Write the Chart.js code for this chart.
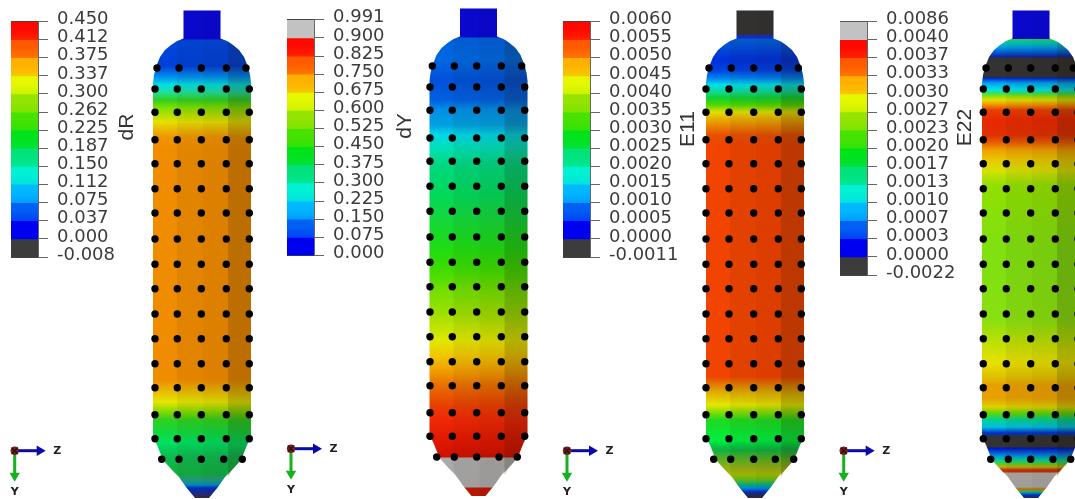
<!DOCTYPE html>
<html><head><meta charset="utf-8">
<script src="https://cdn.jsdelivr.net/npm/chart.js@4"></script>
<style>
html,body{margin:0;padding:0;background:#fff;width:1075px;height:499px;overflow:hidden}
canvas{position:absolute;display:block}
</style></head><body>
<canvas id="main" style="left:0;top:0"></canvas>
<canvas id="bar0"></canvas><canvas id="bar1"></canvas><canvas id="bar2"></canvas><canvas id="bar3"></canvas>
<script>
// ---------- legend data ----------
const ticksDR  = ["0.450","0.412","0.375","0.337","0.300","0.262","0.225","0.187","0.150","0.112","0.075","0.037","0.000","-0.008"];
const ticksDY  = ["0.991","0.900","0.825","0.750","0.675","0.600","0.525","0.450","0.375","0.300","0.225","0.150","0.075","0.000"];
const ticksE11 = ["0.0060","0.0055","0.0050","0.0045","0.0040","0.0035","0.0030","0.0025","0.0020","0.0015","0.0010","0.0005","0.0000","-0.0011"];
const ticksE22 = ["0.0086","0.0040","0.0037","0.0033","0.0030","0.0027","0.0023","0.0020","0.0017","0.0013","0.0010","0.0007","0.0003","0.0000","-0.0022"];
const rainbow  = ["#ff0800","#ff5a00","#ffb000","#e6f800","#94e400","#48e200","#00e21a","#00e27a","#00f2d2","#00b8ff","#0060f4","#0000f0"];
const overGrey = "#c2c2c2", underDark = "#3c3c3c";
const titles = ["dR","dY","E11","E22"];
const titleX = [127,405,688,965];
const titleY = [127,126,129,127.5];

// ---------- capsule outline (distance along y, half width) ----------
const profileY  = [10.5,38.5,39.5,41,45,50,57,67,75,83,437,445,460,470,477,487,498];
const profileHW = [18.5,18.5,21,25,31,37,42,46,48,49,49,45,39,30,23,16,7];
const centers = [202,478.5,755,1031];
const shiftY  = [0,-2,0,0];

// ---------- contour colours along y ----------
const bandsDR = [[10,"#0808d8"],[39,"#0808d8"],[40,"#0048dc"],[66,"#0040d8"],[77,"#0090f0"],[85,"#00e0e0"],[92,"#20e0a0"],[100,"#30d020"],[108,"#80e000"],[122,"#e6e000"],[128,"#e8c000"],[137,"#f09400"],[150,"#f08c00"],[380,"#f08c00"],[393,"#e8c000"],[402,"#e6e600"],[412,"#80d800"],[420,"#30d020"],[433,"#10d840"],[443,"#00e060"],[457,"#10b850"],[473,"#10b040"],[480,"#20a080"],[485,"#0090c0"],[488,"#0030d0"],[495,"#2a2a70"],[498,"#303050"]];
const bandsDY = [[8,"#0808d8"],[37,"#0808d8"],[38,"#0060e0"],[60,"#0068e0"],[80,"#0050d8"],[100,"#0060e0"],[110,"#0090e8"],[125,"#00a0e0"],[135,"#00d8e8"],[150,"#00e0b0"],[165,"#00d880"],[190,"#00d860"],[215,"#10d840"],[250,"#20dc10"],[270,"#40dc00"],[290,"#70e000"],[315,"#a0e000"],[340,"#e0e800"],[355,"#f0c800"],[370,"#f0a000"],[385,"#e87000"],[405,"#e84000"],[420,"#f02808"],[440,"#e01800"],[457,"#d01000"],[458,"#aaaaaa"],[487,"#a8a8a8"],[488,"#c01800"],[498,"#c01800"]];
const bandsE11 = [[10,"#333333"],[34.5,"#333333"],[35,"#1030d0"],[38,"#1030d0"],[39,"#0060d8"],[60,"#0030d8"],[70,"#0040e0"],[78,"#0080f0"],[85,"#00e0e8"],[92,"#10d890"],[98,"#10d030"],[105,"#50d800"],[112,"#e0e000"],[120,"#e8a800"],[135,"#e85000"],[145,"#f04400"],[377,"#f04400"],[385,"#e08000"],[393,"#e0b000"],[405,"#e6e600"],[410,"#a0e000"],[420,"#20d820"],[440,"#00f040"],[445,"#00d040"],[450,"#10b040"],[460,"#60b020"],[470,"#a0b010"],[475,"#a0c000"],[480,"#60c020"],[485,"#00b080"],[488,"#0090e0"],[492,"#0030d0"],[495,"#2a2a50"],[498,"#2a2a50"]];
const bandsE22 = [[10,"#0808d8"],[38.5,"#0808d8"],[39,"#30d060"],[42,"#00d0a0"],[47,"#00a0e0"],[52,"#0060d8"],[57,"#1020a0"],[58,"#333333"],[77,"#333333"],[78,"#0020d0"],[83,"#00a0f0"],[90,"#00e8e8"],[93,"#30e060"],[97,"#a0e000"],[100,"#e0e000"],[105,"#f09000"],[110,"#e84000"],[120,"#e82800"],[135,"#e03000"],[143,"#e86000"],[150,"#f0a000"],[160,"#e8c800"],[170,"#d8e000"],[185,"#90e000"],[250,"#80e010"],[320,"#88e010"],[347,"#c8e000"],[363,"#e8e000"],[377,"#e0c000"],[385,"#e8a000"],[398,"#e8a000"],[407,"#e0d000"],[413,"#60d800"],[420,"#00d090"],[427,"#00c0e0"],[433,"#0030d0"],[437,"#333333"],[447,"#333333"],[448,"#0010c0"],[455,"#0080e0"],[460,"#00d0a0"],[463,"#40d040"],[467,"#c0b000"],[470,"#c03010"],[472,"#c03010"],[473,"#b0a8a0"],[487,"#a8a8a8"],[488,"#a0a040"],[489,"#e06000"],[491,"#40c040"],[493,"#0090d0"],[495,"#0030d0"],[498,"#2a2a50"]];
const bandSets = [bandsDR,bandsDY,bandsE11,bandsE22];

// ---------- facet shading: boundaries relative to the centre, darkening ----------
const facetEdges = [-25,1,26,60];
const facetShade = [0.06,0.09,0.24];

// ---------- black marker points ----------
const rowsA = [68,89,112.3,139.7,163.7,188.7,213,239,264.3,288.7,314,338.7,363.7,387.7,414.7,438.7,459.3];
const rowsB = [66,87,110.3,138,161.3,186.3,211.3,237,262.3,286.7,312,336.7,361.7,385.7,412.7,436.3,457];
const dotRows = [rowsA,rowsB,rowsA,rowsA];
const dotCols = [[155,177.3,201.3,226.3,249.3],[430,452.3,476.7,501.3,524.7],[706,729,753.7,778.3,801.3],[983.3,1006.3,1030.7,1055.3,1078]];
const dotColsTop = [[157,179,201.3,226.3,246],[432.3,454.3,476.7,501.3,521.7],[709,731.3,753.7,778.3,798.3],[986,1008.3,1030.7,1055.3,1073.3]];
const dotColsEnd = [[161.7,179,201.3,223.7,242.3],[436.7,454.3,476.7,499,517.3],[713.7,730.7,753.7,775.3,793.7],[990.7,1008.3,1030.7,1053,1070.7]];

// ---------- orientation triads ----------
const triadX = [14.7,291,567,843.7];
const triadY = [450.7,448.7,450.7,450.7];
const triadLen = 30;
const triadText = ["Z","Y"];

// ---------- main chart ----------
function gradientFor(chart, stops){
  const ys = chart.scales.y;
  const y0 = ys.getPixelForValue(stops[0][0]), y1 = ys.getPixelForValue(stops[stops.length-1][0]);
  if(!isFinite(y0)||!isFinite(y1)) return stops[0][1];
  const g = chart.ctx.createLinearGradient(0,y0,0,y1);
  stops.forEach(s => g.addColorStop((ys.getPixelForValue(s[0])-y0)/(y1-y0), s[1]));
  return g;
}
const clamp = (v,a,b)=>Math.min(b,Math.max(a,v));
const datasets = [];
const poly = {showLine:true,fill:'shape',borderWidth:0,pointRadius:0,tension:0};
centers.forEach((c,i)=>{
  const d = shiftY[i];
  const left = profileY.map((y,k)=>({x:c-profileHW[k],y:y+d}));
  const right = profileY.map((y,k)=>({x:c+profileHW[k],y:y+d})).reverse();
  datasets.push({...poly,order:5,data:left.concat(right),
    backgroundColor:(ctx)=>gradientFor(ctx.chart,bandSets[i])});
  facetShade.forEach((a,f)=>{
    const xl=c+facetEdges[f], xr=c+facetEdges[f+1];
    const l = profileY.map((y,k)=>({x:clamp(c-profileHW[k],xl,xr),y:y+d}));
    const r = profileY.map((y,k)=>({x:clamp(c+profileHW[k],xl,xr),y:y+d})).reverse();
    datasets.push({...poly,order:4,data:l.concat(r),backgroundColor:`rgba(30,15,0,${a})`});
  });
  const pts=[];
  dotRows[i].forEach((y,r)=>{
    const cols = r===0?dotColsTop[i]:(r===dotRows[i].length-1?dotColsEnd[i]:dotCols[i]);
    cols.forEach(x=>pts.push({x,y}));
  });
  datasets.push({order:3,data:pts,pointRadius:3.7,pointBorderWidth:0,pointBackgroundColor:'#000',showLine:false});
  const tx=triadX[i], ty=triadY[i];
  datasets.push({order:2,data:[{x:tx,y:ty},{x:tx+triadLen-5,y:ty}],showLine:true,borderColor:'#0a0aa8',borderWidth:3,
    pointStyle:'triangle',pointRotation:90,pointRadius:[0,6],pointBackgroundColor:'#0a0aa8',pointBorderWidth:0});
  datasets.push({order:2,data:[{x:tx,y:ty},{x:tx,y:ty+triadLen-5}],showLine:true,borderColor:'#18b020',borderWidth:3,
    pointStyle:'triangle',pointRotation:180,pointRadius:[0,6],pointBackgroundColor:'#18b020',pointBorderWidth:0});
  datasets.push({order:1,data:[{x:tx,y:ty}],pointRadius:4.2,pointBackgroundColor:'#7c1c1c',pointBorderWidth:0});
  datasets.push({order:0,data:[{x:tx,y:ty}],pointStyle:'crossRot',pointRadius:4.5,pointBorderColor:'#301010',pointBorderWidth:1.4});
});

const textPlugin = {
  id:'panelText',
  afterDraw(chart){
    const {ctx,scales:{x,y}} = chart;
    ctx.save();
    ctx.textAlign='center'; ctx.textBaseline='middle';
    titles.forEach((t,i)=>{
      ctx.save();
      ctx.translate(x.getPixelForValue(titleX[i]),y.getPixelForValue(titleY[i]));
      ctx.rotate(-Math.PI/2);
      ctx.font='21px "Liberation Sans"'; ctx.fillStyle='#333';
      ctx.fillText(t,0,0);
      ctx.restore();
    });
    ctx.font='bold 11px "DejaVu Sans"'; ctx.fillStyle='#222';
    triadX.forEach((tx,i)=>{
      ctx.fillText(triadText[0],x.getPixelForValue(tx+42.6),y.getPixelForValue(triadY[i]));
      ctx.fillText(triadText[1],x.getPixelForValue(tx),y.getPixelForValue(triadY[i]+41));
    });
    ctx.restore();
  }
};
const mainCanvas=document.getElementById('main');
mainCanvas.width=1075; mainCanvas.height=499;
new Chart(mainCanvas,{
  type:'scatter',
  data:{datasets},
  options:{
    responsive:false,animation:false,devicePixelRatio:1,
    layout:{autoPadding:false,padding:0},
    plugins:{legend:{display:false},tooltip:{enabled:false},filler:{propagate:false}},
    scales:{
      x:{type:'linear',display:false,min:0,max:1075},
      y:{type:'linear',display:false,min:0,max:499,reverse:true}
    }
  },
  plugins:[textPlugin]
});

// ---------- colour legends ----------
const legendTicks = [ticksDR,ticksDY,ticksE11,ticksE22];
const legendColors = [
  rainbow.concat([underDark]),
  [overGrey].concat(rainbow),
  rainbow.concat([underDark]),
  [overGrey].concat(rainbow,[underDark])
];
const legendLeft = [11,287,563,840];
const legendTop  = [21.5,19.5,21.5,21.5];
const legendBottom=[257,255.5,257,275];
const barWidth = 27, axisWidth = 100, canvasH = 300;
function hexMix(a,b,t){
  const p=h=>[1,3,5].map(k=>parseInt(h.substr(k,2),16));
  const A=p(a),B=p(b);
  return 'rgb('+A.map((v,k)=>Math.round(v+(B[k]-v)*t)).join(',')+')';
}
function segmentFill(ctx,steps,k){
  const ys=ctx.chart.scales.y, col=steps[k];
  if(!ys) return col;
  const y0=ys.getPixelForValue(k), y1=ys.getPixelForValue(k+1);
  if(!isFinite(y0)||!isFinite(y1)) return col;
  if(col===overGrey||col===underDark) return col;
  const nxt=steps[k+1]&&steps[k+1]!==underDark?steps[k+1]:col;
  const g=ctx.chart.ctx.createLinearGradient(0,y0,0,y1);
  g.addColorStop(0,col); g.addColorStop(0.4,col); g.addColorStop(1,hexMix(col,nxt,0.3));
  return g;
}
legendTicks.forEach((labels,i)=>{
  const cv=document.getElementById('bar'+i);
  cv.width=barWidth+axisWidth; cv.height=canvasH;
  cv.style.left=legendLeft[i]+'px'; cv.style.top='0px';
  const steps=legendColors[i];
  new Chart(cv,{
    type:'bar',
    data:{labels:[''],datasets:steps.map((col,k)=>({data:[1],backgroundColor:(ctx)=>segmentFill(ctx,steps,k),borderWidth:0,barPercentage:1,categoryPercentage:1}))},
    options:{
      responsive:false,animation:false,devicePixelRatio:1,
      layout:{autoPadding:false,padding:{top:legendTop[i],bottom:canvasH-legendBottom[i],left:0,right:0}},
      plugins:{legend:{display:false},tooltip:{enabled:false}},
      scales:{
        x:{stacked:true,display:false},
        y:{stacked:true,reverse:true,position:'right',min:0,max:steps.length,
          afterFit(s){s.width=axisWidth;},
          border:{display:true,color:'#666',width:1},
          grid:{color:'rgba(35,35,35,0.85)',lineWidth:1,drawOnChartArea:true,drawTicks:true,tickLength:10,tickColor:'#666'},
          ticks:{stepSize:1,autoSkip:false,maxRotation:0,padding:9,labelOffset:-2,color:'#3c3c3c',
            font:{family:'"DejaVu Sans"',size:18},
            callback:(v)=>labels[v]}
        }
      }
    }
  });
});
</script>
</body></html>
